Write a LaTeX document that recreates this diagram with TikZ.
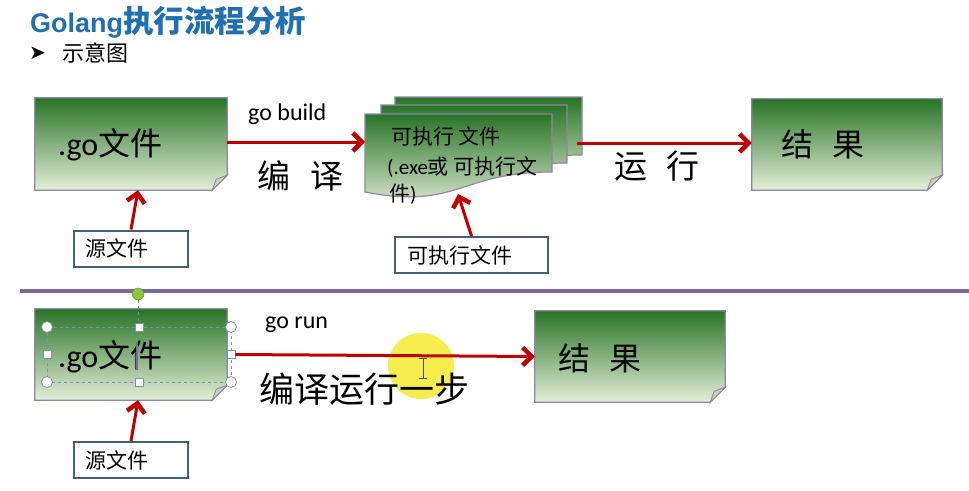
\documentclass[tikz,border=0pt]{standalone}
\usepackage{fontspec}
\usetikzlibrary{arrows.meta,calc,backgrounds}
\newfontfamily\cjk{Noto Sans CJK SC}
\newfontfamily\lat{Carlito}
\newfontfamily\arial{Liberation Sans}
\newfontfamily\dvs{DejaVu Sans}
\definecolor{gtop}{HTML}{287426}
\definecolor{gbot}{HTML}{E4EED8}
\definecolor{bord}{HTML}{8C88A6}
\definecolor{arr}{HTML}{C00000}
\definecolor{lbl}{HTML}{41607E}
\definecolor{ttl}{HTML}{1F6FB2}
\definecolor{purp}{HTML}{7E66A0}
\definecolor{foldc}{HTML}{C9CEC2}
\definecolor{selc}{HTML}{7E93A6}
\definecolor{hlyel}{HTML}{F4EC3A}
\definecolor{hgreen}{HTML}{8CC63F}
\newcommand\foldbox[1]{%
  \begin{scope}[on background layer]
    \path[notefill] (#1.north west) -- (#1.north east) -- ([yshift=15pt]#1.south east)
      -- ([xshift=-15pt]#1.south east) -- (#1.south west) -- cycle;
    \filldraw[fill=foldc, draw=bord, line width=0.8pt] ([yshift=15pt]#1.south east)
      -- ([xshift=-15pt]#1.south east) -- ([xshift=-11pt,yshift=11pt]#1.south east) -- cycle;
  \end{scope}}
\newcommand\docpage[3]{%
  \path[notefill] ({#1},{-(#2)}) -- ({#3},{-(#2)}) -- ({#3},{-(#2+58)})
    .. controls ({(#1+#3)/2},{-(#2+58)}) and ({(#1+#3)/2},{-(#2+96)}) .. ({#1},{-(#2+78)}) -- cycle;}
\tikzset{
  notefill/.style={top color=gtop, bottom color=gbot, draw=bord, line width=1.2pt},
  notebox/.style={rectangle, draw=none, inner sep=0pt},
  redarrow/.style={draw=arr, line width=3pt, -{Straight Barb[length=9pt,width=18pt,line width=4.5pt]}},
  lblbox/.style={draw=lbl, line width=2pt, fill=white, inner xsep=11pt, inner ysep=0pt,
    minimum height=36pt, align=left},
  txt/.style={inner sep=0pt, anchor=west},
  hsq/.style={draw=selc, fill=white, line width=0.8pt, minimum size=8pt, inner sep=0pt},
  hcirc/.style={draw=selc, fill=white, line width=0.8pt, circle, minimum size=11pt, inner sep=0pt},
}
\begin{document}
\begin{tikzpicture}[x=1pt,y=1pt]
\useasboundingbox (0,0) rectangle (969,-490);
\begin{scope}[on background layer]
  \fill[white] (0,0) rectangle (969,-490);
\end{scope}

% title
\node[txt, text=ttl] (title) at (30,-22) {\arial\bfseries\fontsize{27}{30}\selectfont Golang{\cjk\bfseries\fontsize{30.5}{30}\selectfont 执行流程分析}};
\node[txt] (bullet) at (29,-53) {\dvs\fontsize{20}{20}\selectfont ➤};
\node[txt] (sub) at (62,-53) {\cjk\fontsize{22}{22}\selectfont 示意图};

% ---------- top row ----------
\node[notebox, minimum width=192pt, minimum height=92pt] (go1) at (131,-144) {};
\foldbox{go1}
\node[txt] (go1t) at (58,-145) {\lat\fontsize{32}{32}\selectfont .go{\cjk 文件}};

\node[lblbox, text width=92pt] (src1) at (131,-248.5) {\cjk\fontsize{21}{21}\selectfont 源文件};
\draw[redarrow] (src1.north) -- ([xshift=7pt]go1.south);

% stacked executable pages
\docpage{395}{97}{582}
\docpage{381}{105}{567}
\docpage{365}{114}{552}
\coordinate (frontw) at (365,-142);
\coordinate (frontb) at (458,-194);
\coordinate (backe) at (577,-143);
\node[txt] (exe1) at (391,-136) {\cjk\fontsize{21}{21}\selectfont 可执行 文件};
\node[txt] (exe2) at (387,-167) {\lat\fontsize{21}{21}\selectfont (.exe{\cjk 或 可执行文}};
\node[txt] (exe3) at (389,-194) {\cjk\fontsize{21}{21}\selectfont 件{\lat )}};

\node[lblbox, text width=129pt, inner xsep=12pt] (exelbl) at (471.5,-255) {\cjk\fontsize{21}{21}\selectfont 可执行文件};
\draw[redarrow] (exelbl.north) -- (frontb);

\draw[redarrow] ([yshift=2pt]go1.east) -- (frontw);
\node[txt] (build) at (248,-114) {\lat\fontsize{24}{24}\selectfont go build};
\node[txt] (compile) at (257,-176) {\cjk\fontsize{33}{33}\selectfont 编\hspace{20pt}译};

\node[notebox, minimum width=190pt, minimum height=91pt] (res1) at (847,-144.5) {};
\foldbox{res1}
\node[txt] (res1t) at (781,-144) {\cjk\fontsize{32}{32}\selectfont 结\hspace{19pt}果};
\draw[redarrow] (backe) -- (res1.west |- backe);
\node[txt] (run) at (614,-166) {\cjk\fontsize{33}{33}\selectfont 运\hspace{19pt}行};

% divider
\coordinate (divl) at (20,-291);
\coordinate (divr) at (969,-291);
\draw[purp, line width=4pt] (divl) -- (divr);

% ---------- bottom row ----------
\fill[hlyel, opacity=0.9] (421,-366) circle (33);

\node[notebox, minimum width=192pt, minimum height=91pt] (go2) at (131,-354.5) {};
\foldbox{go2}
\node[txt] (go2t) at (58,-357) {\lat\fontsize{32}{32}\selectfont .go{\cjk 文件}};

% selection handles
\draw[selc, dashed, line width=0.9pt] (47,-327) rectangle (231,-382);
\draw[selc, dashed, line width=0.9pt] (138,-300) -- (138,-323);
\node[circle, draw=hgreen!70!black, fill=hgreen, minimum size=12pt, inner sep=0pt] (rot) at (138,-294) {};
\node[hcirc] (c1) at (47,-327) {};
\node[hcirc] (c2) at (231,-327) {};
\node[hcirc] (c3) at (47,-382) {};
\node[hcirc] (c4) at (231,-382) {};
\node[hsq] (s1) at (139,-327) {};
\node[hsq] (s2) at (139,-382) {};
\node[hsq] (s3) at (47,-354.5) {};
\node[hsq] (s4) at (231,-354.5) {};
\draw[purp, line width=1.5pt] (137,-343) -- (137,-370);

\node[lblbox, text width=92pt] (src2) at (131,-460) {\cjk\fontsize{21}{21}\selectfont 源文件};
\draw[redarrow] (src2.north) -- ([xshift=7pt]go2.south);

\node[notebox, minimum width=190pt, minimum height=91pt] (res2) at (630,-356.5) {};
\foldbox{res2}
\node[txt] (res2t) at (558,-358) {\cjk\fontsize{32}{32}\selectfont 结\hspace{19pt}果};

\draw[redarrow] (s4.east) -- (res2.west);
\node[txt] (gorun) at (265,-325) {\lat\fontsize{24}{24}\selectfont go run};
\node[txt] (onestep) at (259,-389) {\cjk\fontsize{35}{35}\selectfont 编译运行一步};

% text cursor (I-beam)
\draw[black!70, line width=1pt] (423,-358) -- (423,-378) (419,-358) -- (427,-358) (419,-378) -- (427,-378);
\end{tikzpicture}
\end{document}
